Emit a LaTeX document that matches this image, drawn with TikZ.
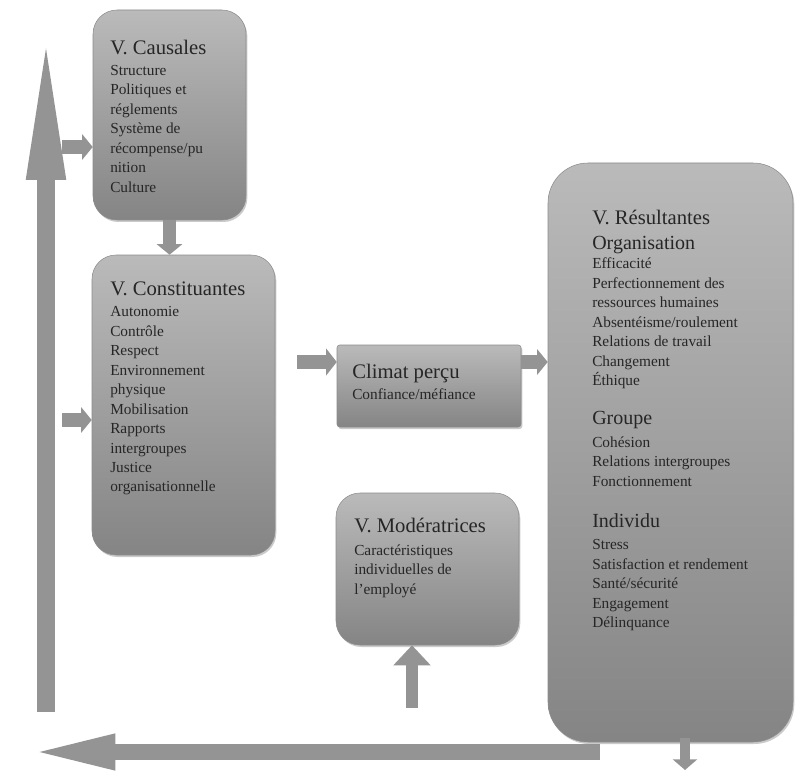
\documentclass[tikz,border=0pt]{standalone}
\usepackage{fontspec}
\setmainfont{Liberation Serif}
\usetikzlibrary{positioning,arrows.meta,shadows}

\newcommand\vtitle{\fontsize{15.5}{17}\selectfont}
\newcommand\vhead{\fontsize{15}{17}\selectfont}

\begin{document}
\begin{tikzpicture}[
  x=0.75pt, y=-0.75pt,
  varbox/.style={draw=black!45, line width=0.4pt, top color=black!27, bottom color=black!48,
    drop shadow={shadow xshift=1pt, shadow yshift=-1.5pt, opacity=0.35, fill=black!60},
    rounded corners=18pt, inner sep=0pt},
  boxtext/.style={anchor=north west, inner sep=0pt, align=left, font=\fontsize{11.5}{14.6}\selectfont, text=black!85},
  blockarrow/.style={draw=black!42, line width=10pt, -{Triangle[length=8pt, width=19pt]}}
]
  \useasboundingbox (0,0) rectangle (801,774);

  % long feedback arrows (drawn first)
  \coordinate (upbot) at (46,712);
  \coordinate (uptop) at (46,28);
  \draw[blockarrow, line width=13.5pt, -{Triangle[length=114pt, width=26pt]}] (upbot) -- (uptop);
  \coordinate (backstart) at (600,752);
  \coordinate (backend) at (30,752);
  \draw[blockarrow, line width=11.5pt, -{Triangle[length=64pt, width=24pt]}] (backstart) -- (backend);

  % variable boxes
  \node[varbox, minimum width=114.75pt, minimum height=157.5pt] (causales) at (169.5,115) {};
  \node[varbox, minimum width=137.25pt, minimum height=225pt] (constit) at (183.5,405) {};
  \node[varbox, rounded corners=2pt, minimum width=138pt, minimum height=61.5pt] (climat) at (429,386) {};
  \node[varbox, minimum width=137.25pt, minimum height=114pt] (moder) at (427.5,569) {};
  \node[varbox, rounded corners=30pt, minimum width=183.75pt, minimum height=434.25pt] (result) at (670.5,452.5) {};

  % box texts
  \node[boxtext] (causalestxt) at (110,40) {{\vtitle V. Causales}\\[1pt]
    Structure\\ Politiques et\\ réglements\\ Système de\\ récompense/pu\\ nition\\ Culture};
  \node[boxtext] (constittxt) at (110,282) {{\vtitle V. Constituantes}\\[1pt]
    Autonomie\\ Contrôle\\ Respect\\ Environnement\\ physique\\ Mobilisation\\ Rapports\\
    intergroupes\\ Justice\\ organisationnelle};
  \node[boxtext] (climattxt) at (352,364) {{\vtitle Climat perçu}\\[1pt] Confiance/méfiance};
  \node[boxtext] (modertxt) at (354,518) {{\vtitle V. Modératrices}\\[2.5pt]
    Caractéristiques\\ individuelles de\\ l'employé};
  \node[boxtext] (resulttxt) at (592,210) {{\vtitle V. Résultantes}\\[4pt]
    {\vhead Organisation}\\ Efficacité\\ Perfectionnement des\\ ressources humaines\\
    Absentéisme/roulement\\ Relations de travail\\ Changement\\ Éthique\\[14.5pt]
    {\vhead Groupe}\\[2.5pt] Cohésion\\ Relations intergroupes\\ Fonctionnement\\[16pt]
    {\vhead Individu}\\[2.5pt] Stress\\ Satisfaction et rendement\\ Santé/sécurité\\
    Engagement\\ Délinquance};

  % short arrows
  \coordinate (incaus) at (62,147);
  \coordinate (inconst) at (62,420);
  \coordinate (toclimat) at (297,362);
  \coordinate (modbot) at (412,708);
  \coordinate (resdown) at (685,738);
  \coordinate (resout) at (685,770);
  \draw[blockarrow] (incaus) -- (incaus -| causales.west);
  \draw[blockarrow] (inconst) -- (inconst -| constit.west);
  \draw[blockarrow] (causales.south) -- (causales.south |- constit.north);
  \draw[blockarrow, -{Triangle[length=8pt, width=20pt]}] (toclimat) -- (toclimat -| climat.west);
  \draw[blockarrow] (climat.east |- toclimat) -- (toclimat -| result.west);
  \draw[blockarrow, line width=9pt, -{Triangle[length=15pt, width=27pt]}] (modbot) -- (modbot |- moder.south);
  \draw[blockarrow, line width=7.5pt, -{Triangle[length=8pt, width=18pt]}] (resdown) -- (resout);
\end{tikzpicture}
\end{document}
